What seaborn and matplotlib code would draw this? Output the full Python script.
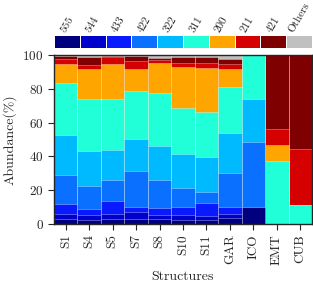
import numpy as np
import pandas as pd
import seaborn as sns
import matplotlib.pyplot as plt
from matplotlib.colors import ListedColormap

# structures and cluster types
structures = ["S1", "S4", "S5", "S7", "S8", "S10", "S11", "GAR", "ICO", "EMT", "CUB"]
clusters = ["555", "544", "433", "422", "322", "311", "200", "211", "421", "Others"]
colors = ["#00007f", "#0000cc", "#0a1aff", "#0a70ff", "#00baff",
          "#20ffd8", "#ffa500", "#d50000", "#7f0000", "#c0c0c0"]

# abundance (%) per cluster type
a555 = [3.2, 2.2, 3.2, 3.2, 3.2, 2.6, 2.4, 3.8, 10.1, 0, 0]
a544 = [2.9, 2.9, 2.9, 4.0, 2.3, 2.5, 2.5, 2.3, 0, 0, 0]
a433 = [5.7, 4.0, 7.5, 2.9, 4.0, 4.8, 7.5, 4.0, 0, 0, 0]
a422 = [17.4, 13.2, 12.6, 21.1, 16.3, 11.2, 6.8, 20.1, 38.4, 0, 0]
a322 = [23.7, 20.9, 17.8, 19.3, 20.3, 20.4, 20.7, 23.9, 25.6, 0, 0]
a311 = [30.7, 30.9, 30.1, 28.2, 31.6, 27.0, 26.6, 27.0, 25.9, 37.1, 11.1]
a200 = [11.1, 17.4, 20.6, 12.8, 17.6, 24.3, 25.7, 10.4, 0, 9.8, 0]
a211 = [3.1, 2.8, 4.3, 4.8, 2.0, 2.5, 3.1, 3.2, 0, 9.5, 33.1]
a421 = [1.6, 4.7, 0.6, 3.1, 1.0, 3.7, 3.5, 3.1, 0, 43.6, 55.8]
others = [0.6, 1.0, 0.4, 0.6, 1.7, 1.0, 1.2, 2.2, 0, 0, 0]

sns.set_style("ticks")
plt.rcParams["font.family"] = "serif"
plt.rcParams["font.serif"] = ["cmr10", "DejaVu Serif"]
plt.rcParams["mathtext.fontset"] = "cm"
plt.rcParams["axes.formatter.use_mathtext"] = True
plt.rcParams["axes.unicode_minus"] = False

df = pd.DataFrame(dict(zip(clusters, [a555, a544, a433, a422, a322, a311, a200, a211, a421, others])),
                  index=structures)
cum = df.cumsum(axis=1)

fig = plt.figure(figsize=(3.13, 2.88), dpi=100)
ax = fig.add_axes([0.1725, 0.2222, 0.8243, 0.587])

# stacked bars: draw the tallest cumulative layer first
for c, col in reversed(list(zip(clusters, colors))):
    sns.barplot(x=structures, y=cum[c].values, color=col, width=1, saturation=1,
                edgecolor=(1, 1, 1, 0.45), linewidth=0.5, ax=ax)

ax.set_xlim(-0.5, len(structures) - 0.5)
ax.set_ylim(0, 100)
ax.set_yticks([0, 20, 40, 60, 80, 100])
ax.set_xlabel("Structures", fontsize=10)
ax.set_ylabel("Abundance(%)", fontsize=10)
ax.tick_params(axis="both", direction="out", length=4, width=0.8, labelsize=9.5)
ax.tick_params(axis="x", rotation=90)
for s in ax.spines.values():
    s.set_linewidth(1.0)

# colour key on top
lax = fig.add_axes([0.1725, 0.8333, 0.8243, 0.045])
sns.heatmap(np.arange(len(clusters)).reshape(1, -1), cmap=ListedColormap(colors), cbar=False,
            linewidths=0.6, linecolor="white", xticklabels=clusters, yticklabels=False, ax=lax)
lax.xaxis.tick_top()
lax.tick_params(length=0, pad=1, labelsize=8)
plt.setp(lax.get_xticklabels(), rotation=60, ha="center", va="bottom")

plt.savefig("out.png", dpi=100)
